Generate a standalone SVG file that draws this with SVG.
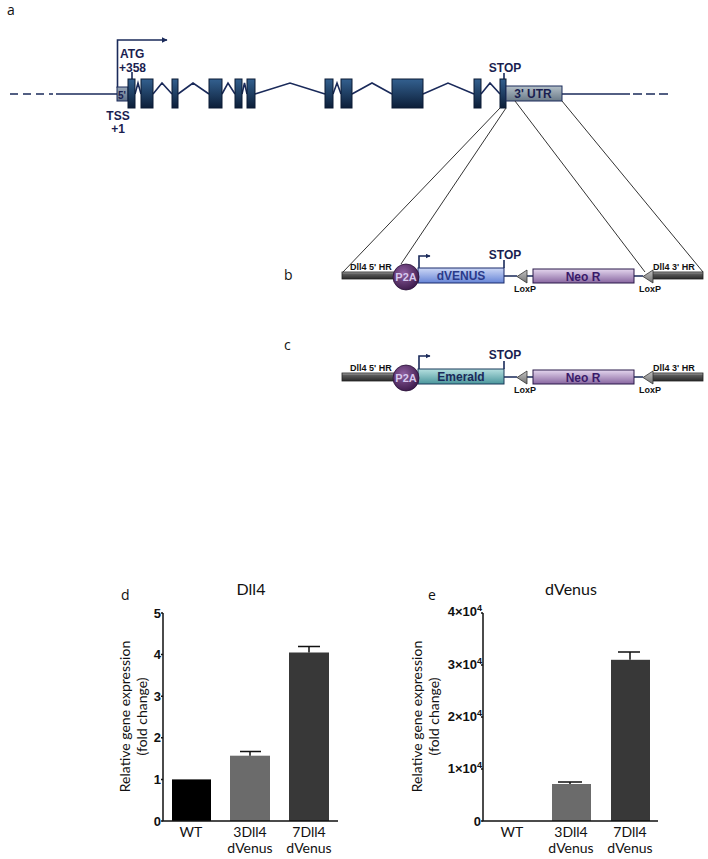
<svg xmlns="http://www.w3.org/2000/svg" width="708" height="859" viewBox="0 0 708 859">
<defs>
<linearGradient id="gExon" x1="0" y1="0" x2="0" y2="1"><stop offset="0" stop-color="#33608f"/><stop offset="1" stop-color="#0c1e38"/></linearGradient>
<linearGradient id="gUtr" x1="0" y1="0" x2="0" y2="1"><stop offset="0" stop-color="#b4c0c8"/><stop offset="1" stop-color="#6a7a88"/></linearGradient>
<linearGradient id="g5" x1="0" y1="0" x2="0" y2="1"><stop offset="0" stop-color="#9aa8b8"/><stop offset="1" stop-color="#5f7088"/></linearGradient>
<linearGradient id="gHR" x1="0" y1="0" x2="0" y2="1"><stop offset="0" stop-color="#b0b0b0"/><stop offset="0.3" stop-color="#5a5a5a"/><stop offset="1" stop-color="#2a2a2a"/></linearGradient>
<radialGradient id="gP2A" cx="0.4" cy="0.35" r="0.7"><stop offset="0" stop-color="#8f5fa0"/><stop offset="1" stop-color="#3a1848"/></radialGradient>
<linearGradient id="gVen" x1="0" y1="0" x2="0" y2="1"><stop offset="0" stop-color="#cdd8f6"/><stop offset="1" stop-color="#6684d6"/></linearGradient>
<linearGradient id="gEm" x1="0" y1="0" x2="0" y2="1"><stop offset="0" stop-color="#b6e0e0"/><stop offset="1" stop-color="#4a969c"/></linearGradient>
<linearGradient id="gNeo" x1="0" y1="0" x2="0" y2="1"><stop offset="0" stop-color="#e4d6ee"/><stop offset="1" stop-color="#8866a0"/></linearGradient>
<linearGradient id="gLox" x1="0" y1="0" x2="0" y2="1"><stop offset="0" stop-color="#c4c4c4"/><stop offset="1" stop-color="#707070"/></linearGradient>
<marker id="arr" viewBox="0 0 10 10" refX="9" refY="5" markerWidth="6" markerHeight="6" markerUnits="userSpaceOnUse" orient="auto"><path d="M0,0 L10,5 L0,10 z" fill="#1a2a5a"/></marker>
<marker id="arrS" viewBox="0 0 10 10" refX="9" refY="5" markerWidth="5" markerHeight="5" markerUnits="userSpaceOnUse" orient="auto"><path d="M0,0 L10,5 L0,10 z" fill="#1a2a5a"/></marker>
</defs>
<style>
.lbl{font-family:"Open Sans","Noto Sans",sans-serif;font-size:14px;fill:#111}
.gt{font-family:"Liberation Sans",Arial,sans-serif;font-weight:bold;font-size:12px;fill:#1a1e50}
.sm{font-family:"Liberation Sans",Arial,sans-serif;font-weight:bold;font-size:9px;fill:#111}
.ln{stroke:#1a2a5a;stroke-width:1.6;fill:none}
.exon{fill:url(#gExon);stroke:#0b1a34;stroke-width:1}
.hr{fill:url(#gHR);stroke:#222;stroke-width:0.8}
.lox{fill:url(#gLox);stroke:#333;stroke-width:0.8}
.proj{stroke:#333;stroke-width:1;fill:none}
.ax{stroke:#111;stroke-width:1.5;fill:none}
.tk{font-family:"Liberation Sans",Arial,sans-serif;font-weight:bold;font-size:13px;fill:#111}
.xl{font-family:Lato,"Open Sans",sans-serif;font-size:14px;fill:#111}
.ttl{font-family:Lato,"Open Sans",sans-serif;font-size:16px;fill:#111}
.yt{font-family:Lato,"Open Sans",sans-serif;font-size:14px;fill:#111}
.err{stroke:#111;stroke-width:1.5;fill:none}
</style>

<!-- panel labels -->
<text class="lbl" x="7" y="15">a</text>
<text class="lbl" x="284" y="280">b</text>
<text class="lbl" x="284" y="350">c</text>
<text class="lbl" x="121" y="600">d</text>
<text class="lbl" x="428" y="600">e</text>

<!-- gene (panel a) -->
<g id="gene">
<path class="ln" d="M10,94 H53" stroke-dasharray="8,5"/>
<path class="ln" d="M56,94 H117"/>
<path class="ln" d="M562,94 H630"/>
<path class="ln" d="M633,94 H672" stroke-dasharray="9,4"/>
<path class="ln" d="M135,94 L138,83 L141,94 M153,94 L162,83 L172,94 M178,94 L193,83 L209,94 M222,94 L228,83 L235,94 M242,94 L244.5,83 L247,94 M255,94 L290,83 L325,94 M333,94 L337,83 L341,94 M352,94 L372,83 L392,94 M423,94 L448,83 L474,94 M481,94 L490,83 L500,94"/>
<path class="ln" d="M117.5,88 V40 H167" marker-end="url(#arr)"/>
<path class="ln" d="M132,72 V79"/>
<path class="ln" d="M504,73 V79"/>
<rect x="117" y="87" width="11" height="14" fill="url(#g5)" stroke="#1a2a5a" stroke-width="1"/>
<text class="gt" x="118" y="98.5" style="font-size:10px">5'</text>
<rect class="exon" x="128" y="79" width="7" height="29"/>
<rect class="exon" x="141" y="79" width="12" height="29"/>
<rect class="exon" x="172" y="79" width="6" height="29"/>
<rect class="exon" x="209" y="79" width="13" height="29"/>
<rect class="exon" x="235" y="79" width="7" height="29"/>
<rect class="exon" x="247" y="79" width="8" height="29"/>
<rect class="exon" x="325" y="79" width="8" height="29"/>
<rect class="exon" x="341" y="79" width="11" height="29"/>
<rect class="exon" x="392" y="79" width="31" height="29"/>
<rect class="exon" x="474" y="79" width="7" height="29"/>
<rect class="exon" x="500" y="79" width="6" height="29"/>
<rect x="506" y="86" width="56" height="15" fill="url(#gUtr)" stroke="#1a2a5a" stroke-width="1"/>
<text class="gt" x="533" y="97.5" text-anchor="middle">3' UTR</text>
<text class="gt" x="120" y="58">ATG</text>
<text class="gt" x="119" y="72">+358</text>
<text class="gt" x="118" y="120" text-anchor="middle">TSS</text>
<text class="gt" x="118" y="133" text-anchor="middle">+1</text>
<text class="gt" x="505" y="72" text-anchor="middle">STOP</text>
</g>

<!-- projection lines -->
<g id="connectors">
<path class="proj" d="M500,108 L343,272"/>
<path class="proj" d="M506,108 L401,264"/>
<path class="proj" d="M515,101 L645,272"/>
<path class="proj" d="M562,101 L703,272"/>
</g>

<!-- construct b -->
<g id="construct-b">
<path class="ln" d="M504,276 H517 M527,276 H533 M634,276 H643"/>
<rect class="hr" x="342" y="272" width="53" height="7"/>
<rect class="hr" x="652" y="272" width="51" height="7"/>
<text class="sm" x="350" y="269.5">Dll4 5' HR</text>
<text class="sm" x="653" y="269.5">Dll4 3' HR</text>
<rect x="418" y="268" width="86" height="15" fill="url(#gVen)" stroke="#1a2a6a" stroke-width="1"/>
<text class="gt" x="461" y="280" text-anchor="middle" style="fill:#2a3a8a">dVENUS</text>
<circle cx="406" cy="277" r="13" fill="url(#gP2A)" stroke="#2a1238" stroke-width="0.8"/>
<text class="gt" x="406" y="281" text-anchor="middle" style="font-size:11px;fill:#d6c8ee">P2A</text>
<path class="ln" d="M419,268 V256 H430" stroke-width="1.2" marker-end="url(#arrS)"/>
<path class="ln" d="M504,268 V260" stroke-width="1.2"/>
<text class="gt" x="505" y="259" text-anchor="middle">STOP</text>
<path class="lox" d="M517,276.5 L527,270 L527,283 z"/>
<rect x="533" y="269" width="101" height="14" fill="url(#gNeo)" stroke="#2a1a4a" stroke-width="1"/>
<text class="gt" x="583" y="280.5" text-anchor="middle" style="fill:#3a1a6a">Neo R</text>
<path class="lox" d="M643,276.5 L653,270 L653,283 z"/>
<text class="sm" x="525" y="292" text-anchor="middle">LoxP</text>
<text class="sm" x="650" y="292" text-anchor="middle">LoxP</text>
</g>

<!-- construct c -->
<g id="construct-c">
<path class="ln" d="M504,377 H517 M527,377 H533 M634,377 H643"/>
<rect class="hr" x="342" y="373" width="53" height="8"/>
<rect class="hr" x="652" y="373" width="51" height="8"/>
<text class="sm" x="350" y="371">Dll4 5' HR</text>
<text class="sm" x="653" y="371">Dll4 3' HR</text>
<rect x="418" y="369" width="86" height="15" fill="url(#gEm)" stroke="#1a3a5a" stroke-width="1"/>
<text class="gt" x="461" y="381" text-anchor="middle" style="fill:#1a2a5a">Emerald</text>
<circle cx="406" cy="378" r="13" fill="url(#gP2A)" stroke="#2a1238" stroke-width="0.8"/>
<text class="gt" x="406" y="382" text-anchor="middle" style="font-size:11px;fill:#d6c8ee">P2A</text>
<path class="ln" d="M419,369 V356 H430" stroke-width="1.2" marker-end="url(#arrS)"/>
<path class="ln" d="M504,369 V361" stroke-width="1.2"/>
<text class="gt" x="505" y="359" text-anchor="middle">STOP</text>
<path class="lox" d="M517,377.5 L527,371 L527,384 z"/>
<rect x="533" y="370" width="101" height="14" fill="url(#gNeo)" stroke="#2a1a4a" stroke-width="1"/>
<text class="gt" x="583" y="381.5" text-anchor="middle" style="fill:#3a1a6a">Neo R</text>
<path class="lox" d="M643,377.5 L653,371 L653,384 z"/>
<text class="sm" x="525" y="393" text-anchor="middle">LoxP</text>
<text class="sm" x="650" y="393" text-anchor="middle">LoxP</text>
</g>

<!-- chart d -->
<g id="chart-d">
<text class="ttl" x="251" y="595" text-anchor="middle">Dll4</text>
<rect x="172" y="779.4" width="39" height="41.6" fill="#000"/>
<rect x="230" y="755.7" width="40" height="65.3" fill="#6b6b6b"/>
<rect x="289" y="652.5" width="40" height="168.5" fill="#383838"/>
<path class="err" d="M250,755.7 V751.5 M240,751.5 H261 M309,652.5 V646.5 M298,646.5 H320"/>
<path class="ax" d="M163,613 V821 H338"/>
<path class="ax" d="M161,613 H163 M161,654.6 H163 M161,696.2 H163 M161,737.8 H163 M161,779.4 H163 M161,821 H163"/>
<text class="tk" x="161" y="618" text-anchor="end">5</text>
<text class="tk" x="161" y="659" text-anchor="end">4</text>
<text class="tk" x="161" y="700.7" text-anchor="end">3</text>
<text class="tk" x="161" y="742.3" text-anchor="end">2</text>
<text class="tk" x="161" y="784" text-anchor="end">1</text>
<text class="tk" x="161" y="825.5" text-anchor="end">0</text>
<text class="xl" x="191" y="837" text-anchor="middle">WT</text>
<text class="xl" x="250" y="837" text-anchor="middle">3Dll4</text>
<text class="xl" x="250" y="853" text-anchor="middle">dVenus</text>
<text class="xl" x="309" y="837" text-anchor="middle">7Dll4</text>
<text class="xl" x="309" y="853" text-anchor="middle">dVenus</text>
<text class="yt" transform="translate(130,716.5) rotate(-90)" text-anchor="middle">Relative gene expression</text>
<text class="yt" transform="translate(147,716.5) rotate(-90)" text-anchor="middle">(fold change)</text>
</g>

<!-- chart e -->
<g id="chart-e">
<text class="ttl" x="571" y="595" text-anchor="middle">dVenus</text>
<rect x="552" y="784" width="39" height="37" fill="#6b6b6b"/>
<rect x="611" y="659.8" width="39" height="161.2" fill="#383838"/>
<path class="err" d="M570,784 V782 M558,782 H582 M630,659.8 V652 M618,652 H640"/>
<path class="ax" d="M483,613 V821 H658"/>
<path class="ax" d="M481,613 H483 M481,665 H483 M481,717 H483 M481,769 H483 M481,821 H483"/>
<text class="tk" x="482" y="616" text-anchor="end">4×10<tspan dy="-5" style="font-size:9px">4</tspan></text>
<text class="tk" x="482" y="669" text-anchor="end">3×10<tspan dy="-5" style="font-size:9px">4</tspan></text>
<text class="tk" x="482" y="721" text-anchor="end">2×10<tspan dy="-5" style="font-size:9px">4</tspan></text>
<text class="tk" x="482" y="773" text-anchor="end">1×10<tspan dy="-5" style="font-size:9px">4</tspan></text>
<text class="tk" x="481" y="825.5" text-anchor="end">0</text>
<text class="xl" x="512" y="837" text-anchor="middle">WT</text>
<text class="xl" x="571" y="837" text-anchor="middle">3Dll4</text>
<text class="xl" x="571" y="853" text-anchor="middle">dVenus</text>
<text class="xl" x="630" y="837" text-anchor="middle">7Dll4</text>
<text class="xl" x="630" y="853" text-anchor="middle">dVenus</text>
<text class="yt" transform="translate(422,716.5) rotate(-90)" text-anchor="middle">Relative gene expression</text>
<text class="yt" transform="translate(439,716.5) rotate(-90)" text-anchor="middle">(fold change)</text>
</g>
</svg>
